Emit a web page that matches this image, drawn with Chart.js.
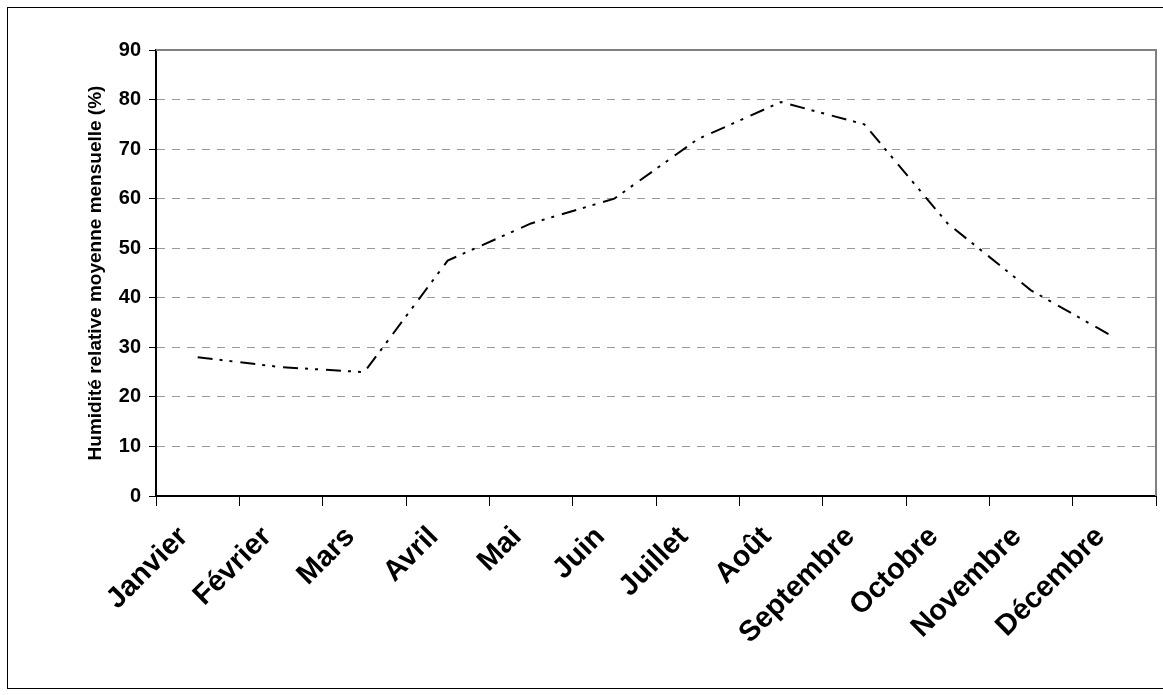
<!DOCTYPE html>
<html>
<head>
<meta charset="utf-8">
<script src="https://cdn.jsdelivr.net/npm/chart.js@4"></script>
<style>
  html, body { margin: 0; padding: 0; background: #fff; }
  #wrap { width: 1163px; height: 695px; }
</style>
</head>
<body>
<div id="wrap"><canvas id="line-chart" width="1163" height="695"></canvas></div>
<script>
var mois = ['Janvier', 'Février', 'Mars', 'Avril', 'Mai', 'Juin', 'Juillet', 'Août', 'Septembre', 'Octobre', 'Novembre', 'Décembre'];
var humidite = [28, 26, 25, 47.5, 55, 60, 72, 79.5, 75, 55, 41.5, 32];
var yMin = 0, yMax = 90, yPas = 10;

// cadre exterieur + bord gris du haut et de droite de la zone de tracé
var cadres = {
    id: 'cadres',
    afterDraw: function(chart) {
        var ctx = chart.ctx, a = chart.chartArea;
        ctx.save();
        ctx.strokeStyle = '#000';
        ctx.lineWidth = 1;
        ctx.strokeRect(7.5, 7.5, 1170, 681);
        ctx.strokeStyle = '#808080';
        ctx.lineWidth = 2;
        ctx.beginPath();
        ctx.moveTo(a.left, a.top);
        ctx.lineTo(a.right, a.top);
        ctx.lineTo(a.right, a.bottom);
        ctx.stroke();
        ctx.restore();
    }
};

Chart.defaults.font.family = '"Liberation Sans", Arial, sans-serif';
Chart.defaults.color = '#000';

var lineChart = new Chart(document.getElementById('line-chart'), {
    type: 'line',
    data: {
        labels: mois,
        datasets: [{
            label: 'Humidité relative moyenne mensuelle (%)',
            data: humidite,
            borderColor: '#000',
            borderWidth: 2,
            borderDash: [15, 7, 3, 7, 3, 8],
            pointRadius: 0,
            fill: false,
            lineTension: 0
        }]
    },
    options: {
        responsive: false,
        animation: false,
        layout: { padding: { left: 8, top: 50, right: 7, bottom: 0 } },
        plugins: { legend: { display: false }, tooltip: { enabled: false } },
        scales: {
            x: {
                offset: true,
                grid: { offset: true, drawOnChartArea: false, tickLength: 10, color: '#000', lineWidth: 1 },
                border: { color: '#000', width: 2 },
                ticks: {
                    autoSkip: false,
                    maxRotation: 45,
                    minRotation: 45,
                    padding: 14,
                    labelOffset: -14,
                    font: { size: 29, weight: 'bold' }
                },
                afterFit: function(s) { s.height = 199; }
            },
            y: {
                min: yMin,
                max: yMax,
                ticks: { stepSize: yPas, padding: 8, font: { size: 20, weight: 'bold' } },
                grid: { color: '#999', lineWidth: 1, tickLength: 7, tickColor: '#000' },
                border: { color: '#000', width: 2, dash: [8, 7] },
                title: {
                    display: true,
                    text: 'Humidité relative moyenne mensuelle (%)',
                    font: { size: 19, weight: 'bold' },
                    padding: { top: 76, bottom: 0 }
                },
                afterFit: function(s) { s.width = 148; }
            }
        }
    },
    plugins: [cadres]
});
</script>
</body>
</html>
